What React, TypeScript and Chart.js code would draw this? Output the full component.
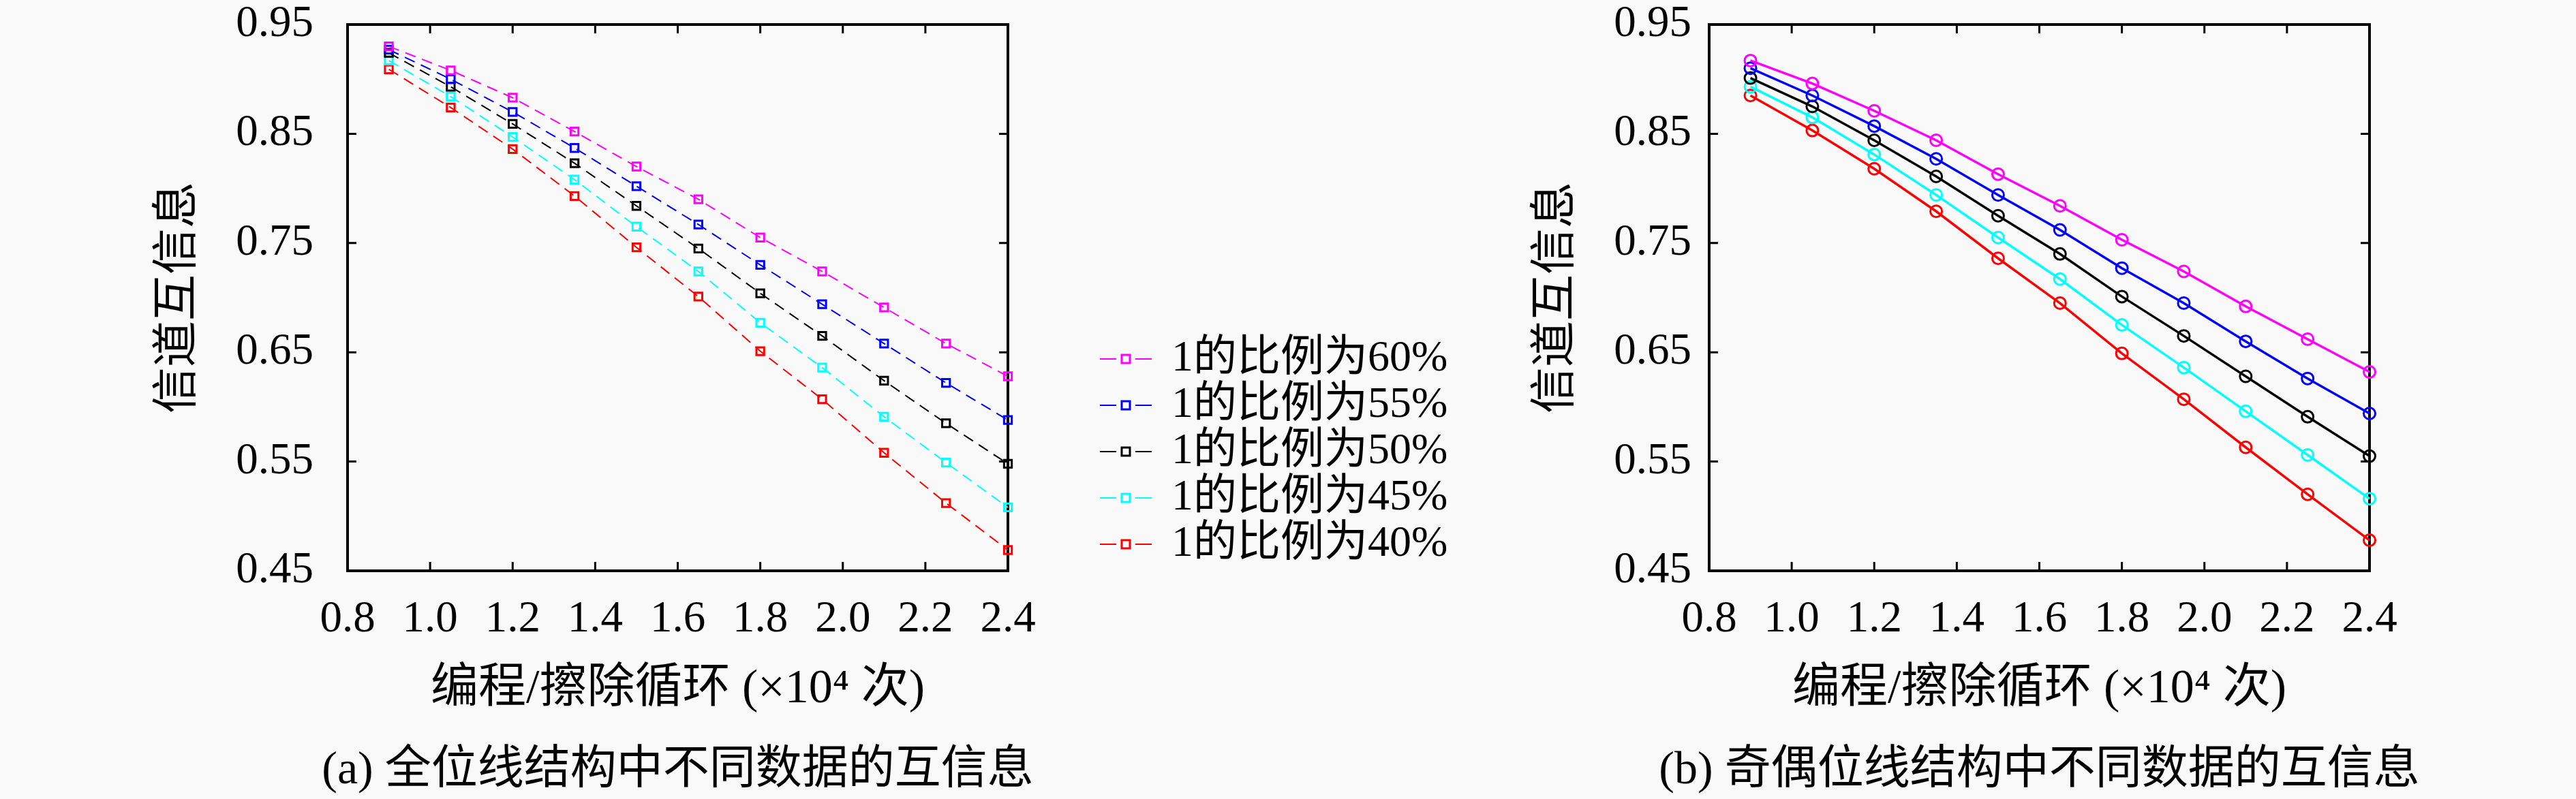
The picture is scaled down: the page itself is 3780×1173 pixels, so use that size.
import { useEffect, useRef } from "react";
import Chart from "chart.js/auto";

const FONT = "'Liberation Serif', 'Times New Roman', 'DejaVu Serif', serif, 'Noto Sans CJK SC'";
const BG = "#f9f9f9";

// x: program/erase cycles (x10^4)
const cycles = [0.9, 1.05, 1.2, 1.35, 1.5, 1.65, 1.8, 1.95, 2.1, 2.25, 2.4];

const seriesLabels = ["1的比例为60%", "1的比例为55%", "1的比例为50%", "1的比例为45%", "1的比例为40%"];
const seriesColors = ["#ff00ff", "#0000ff", "#000000", "#00ffff", "#ff0000"];

// (a) all-bitline structure
const allP60 = [0.930, 0.908, 0.883, 0.852, 0.820, 0.790, 0.755, 0.724, 0.691, 0.658, 0.628];
const allP55 = [0.927, 0.900, 0.870, 0.837, 0.802, 0.767, 0.730, 0.694, 0.658, 0.622, 0.588];
const allP50 = [0.924, 0.893, 0.859, 0.823, 0.784, 0.745, 0.704, 0.665, 0.624, 0.585, 0.548];
const allP45 = [0.917, 0.884, 0.847, 0.808, 0.765, 0.724, 0.677, 0.636, 0.591, 0.549, 0.508];
const allP40 = [0.909, 0.874, 0.836, 0.793, 0.746, 0.701, 0.651, 0.607, 0.558, 0.512, 0.469];

// (b) odd/even bitline structure
const oeP60 = [0.917, 0.896, 0.871, 0.844, 0.813, 0.784, 0.753, 0.724, 0.692, 0.662, 0.632];
const oeP55 = [0.910, 0.885, 0.857, 0.827, 0.794, 0.762, 0.727, 0.695, 0.660, 0.626, 0.594];
const oeP50 = [0.901, 0.875, 0.844, 0.811, 0.775, 0.740, 0.701, 0.665, 0.628, 0.591, 0.555];
const oeP45 = [0.893, 0.865, 0.831, 0.794, 0.755, 0.717, 0.675, 0.636, 0.596, 0.556, 0.516];
const oeP40 = [0.885, 0.853, 0.818, 0.779, 0.736, 0.695, 0.649, 0.607, 0.563, 0.520, 0.478];

const yLabel = "信道互信息";
const xLabel = "编程/擦除循环 (×10⁴ 次)";
const captionA = "(a) 全位线结构中不同数据的互信息";
const captionB = "(b) 奇偶位线结构中不同数据的互信息";

// inward ticks on all four sides + box
const framePlugin = {
  id: "frame",
  beforeDatasetsDraw(chart: any) {
    const { ctx, chartArea: a, scales } = chart;
    ctx.save();
    ctx.strokeStyle = "#000";
    ctx.lineWidth = 3;
    ctx.beginPath();
    for (const t of scales.x.ticks) {
      const px = scales.x.getPixelForValue(t.value);
      ctx.moveTo(px, a.bottom);
      ctx.lineTo(px, a.bottom - 13);
      ctx.moveTo(px, a.top);
      ctx.lineTo(px, a.top + 13);
    }
    for (const t of scales.y.ticks) {
      const py = scales.y.getPixelForValue(t.value);
      ctx.moveTo(a.left, py);
      ctx.lineTo(a.left + 13, py);
      ctx.moveTo(a.right, py);
      ctx.lineTo(a.right - 13, py);
    }
    ctx.stroke();
    ctx.lineWidth = 4;
    ctx.strokeRect(a.left, a.top, a.right - a.left, a.bottom - a.top);
    ctx.restore();
  },
};

const captionPlugin = {
  id: "caption",
  afterDraw(chart: any, _args: any, opts: any) {
    const { ctx, chartArea: a } = chart;
    ctx.save();
    ctx.fillStyle = "#000";
    ctx.font = `68px ${FONT}`;
    ctx.textAlign = "center";
    ctx.textBaseline = "middle";
    ctx.fillText(opts.text, (a.left + a.right) / 2, 1132);
    ctx.restore();
  },
};

// legend: dashed sample with square marker, drawn to the right of chart (a)
const sideLegendPlugin = {
  id: "sideLegend",
  afterDraw(chart: any, _args: any, opts: any) {
    if (!opts.show) return;
    const { ctx } = chart;
    ctx.save();
    chart.data.datasets.forEach((ds: any, i: number) => {
      const y = 527 + i * 68;
      ctx.strokeStyle = ds.borderColor;
      ctx.lineWidth = 2;
      ctx.beginPath();
      ctx.moveTo(1614, y);
      ctx.lineTo(1638, y);
      ctx.moveTo(1666, y);
      ctx.lineTo(1690, y);
      ctx.stroke();
      ctx.lineWidth = 3;
      ctx.strokeRect(1652 - 6, y - 6, 12, 12);
      ctx.fillStyle = "#000";
      ctx.font = `64px ${FONT}`;
      ctx.textAlign = "left";
      ctx.textBaseline = "middle";
      ctx.fillText(ds.label, 1719, y);
    });
    ctx.restore();
  },
};

type PanelProps = {
  series: number[][];
  dashed: boolean;
  width: number;
  yWidth: number;
  padRight: number;
  yTitleCenter: number;
  tickPad: number;
  caption: string;
  legend: boolean;
};

function Panel(p: PanelProps) {
  const ref = useRef<HTMLCanvasElement | null>(null);

  useEffect(() => {
    if (!ref.current) return;
    const ctx = ref.current.getContext("2d");
    if (!ctx) return;

    const datasets = p.series.map((vals, i) => ({
      label: seriesLabels[i],
      data: vals.map((v, j) => ({ x: cycles[j], y: v })),
      borderColor: seriesColors[i],
      backgroundColor: seriesColors[i],
      borderWidth: p.dashed ? 2 : 3.5,
      borderDash: p.dashed ? [16, 10] : [],
      pointStyle: p.dashed ? "rect" : "circle",
      pointRadius: p.dashed ? 8 : 8.5,
      pointBorderWidth: 3,
      pointBorderColor: seriesColors[i],
      pointBackgroundColor: "rgba(0,0,0,0)",
      tension: 0,
      clip: false as any,
    }));

    const xTitleFont = { family: FONT, size: 70 };
    const yTitleFont = { family: FONT, size: 68 };
    const tickFont = { family: FONT, size: 65 };
    const noPad = (s: any) => {
      s.paddingTop = 0;
      s.paddingBottom = 0;
      s.paddingLeft = 0;
      s.paddingRight = 0;
    };

    const chart = new Chart(ctx, {
      type: "line",
      data: { datasets },
      options: {
        responsive: false,
        animation: false,
        layout: { padding: { left: 0, right: p.padRight, top: 36, bottom: 0 } },
        plugins: {
          legend: { display: false },
          tooltip: { enabled: false },
          caption: { text: p.caption },
          sideLegend: { show: p.legend },
        } as any,
        scales: {
          x: {
            type: "linear",
            min: 0.8,
            max: 2.4,
            grid: { display: false, drawTicks: false },
            border: { display: false },
            ticks: {
              stepSize: 0.2,
              padding: 33,
              color: "#000",
              font: tickFont,
              maxRotation: 0,
              callback: (v: any) => Number(v).toFixed(1),
            },
            title: {
              display: true,
              text: xLabel,
              color: "#000",
              font: xTitleFont,
              padding: { top: 0, bottom: 118 },
            },
            afterFit: (s: any) => {
              s.height = 1173 - 838;
              noPad(s);
            },
          },
          y: {
            type: "linear",
            min: 0.45,
            max: 0.95,
            grid: { display: false, drawTicks: false },
            border: { display: false },
            ticks: {
              stepSize: 0.05,
              padding: p.tickPad,
              color: "#000",
              font: tickFont,
              callback: (v: any) => {
                const k = Math.round((Number(v) - 0.45) / 0.05);
                return k % 2 === 0 ? Number(v).toFixed(2) : "";
              },
            },
            title: {
              display: true,
              text: yLabel,
              color: "#000",
              font: yTitleFont,
              padding: { top: p.yTitleCenter - 40.8, bottom: 0 },
            },
            afterFit: (s: any) => {
              s.width = p.yWidth;
              noPad(s);
            },
          },
        },
      },
      plugins: [framePlugin, captionPlugin, sideLegendPlugin],
    });

    return () => chart.destroy();
  }, []);

  return <canvas ref={ref} width={p.width} height={1173} style={{ display: "block" }} />;
}

export default function App() {
  return (
    <div style={{ position: "fixed", left: 0, top: 0, width: 3780, height: 1173, background: BG, overflow: "hidden" }}>
      <div style={{ position: "absolute", left: 0, top: 0 }}>
        <Panel
          series={[allP60, allP55, allP50, allP45, allP40]}
          dashed={true}
          width={2200}
          yWidth={510}
          padRight={2200 - 1479}
          yTitleCenter={263}
          tickPad={50}
          caption={captionA}
          legend={true}
        />
      </div>
      <div style={{ position: "absolute", left: 2200, top: 0 }}>
        <Panel
          series={[oeP60, oeP55, oeP50, oeP45, oeP40]}
          dashed={false}
          width={1580}
          yWidth={308}
          padRight={1580 - 1277}
          yTitleCenter={85}
          tickPad={26}
          caption={captionB}
          legend={false}
        />
      </div>
    </div>
  );
}
